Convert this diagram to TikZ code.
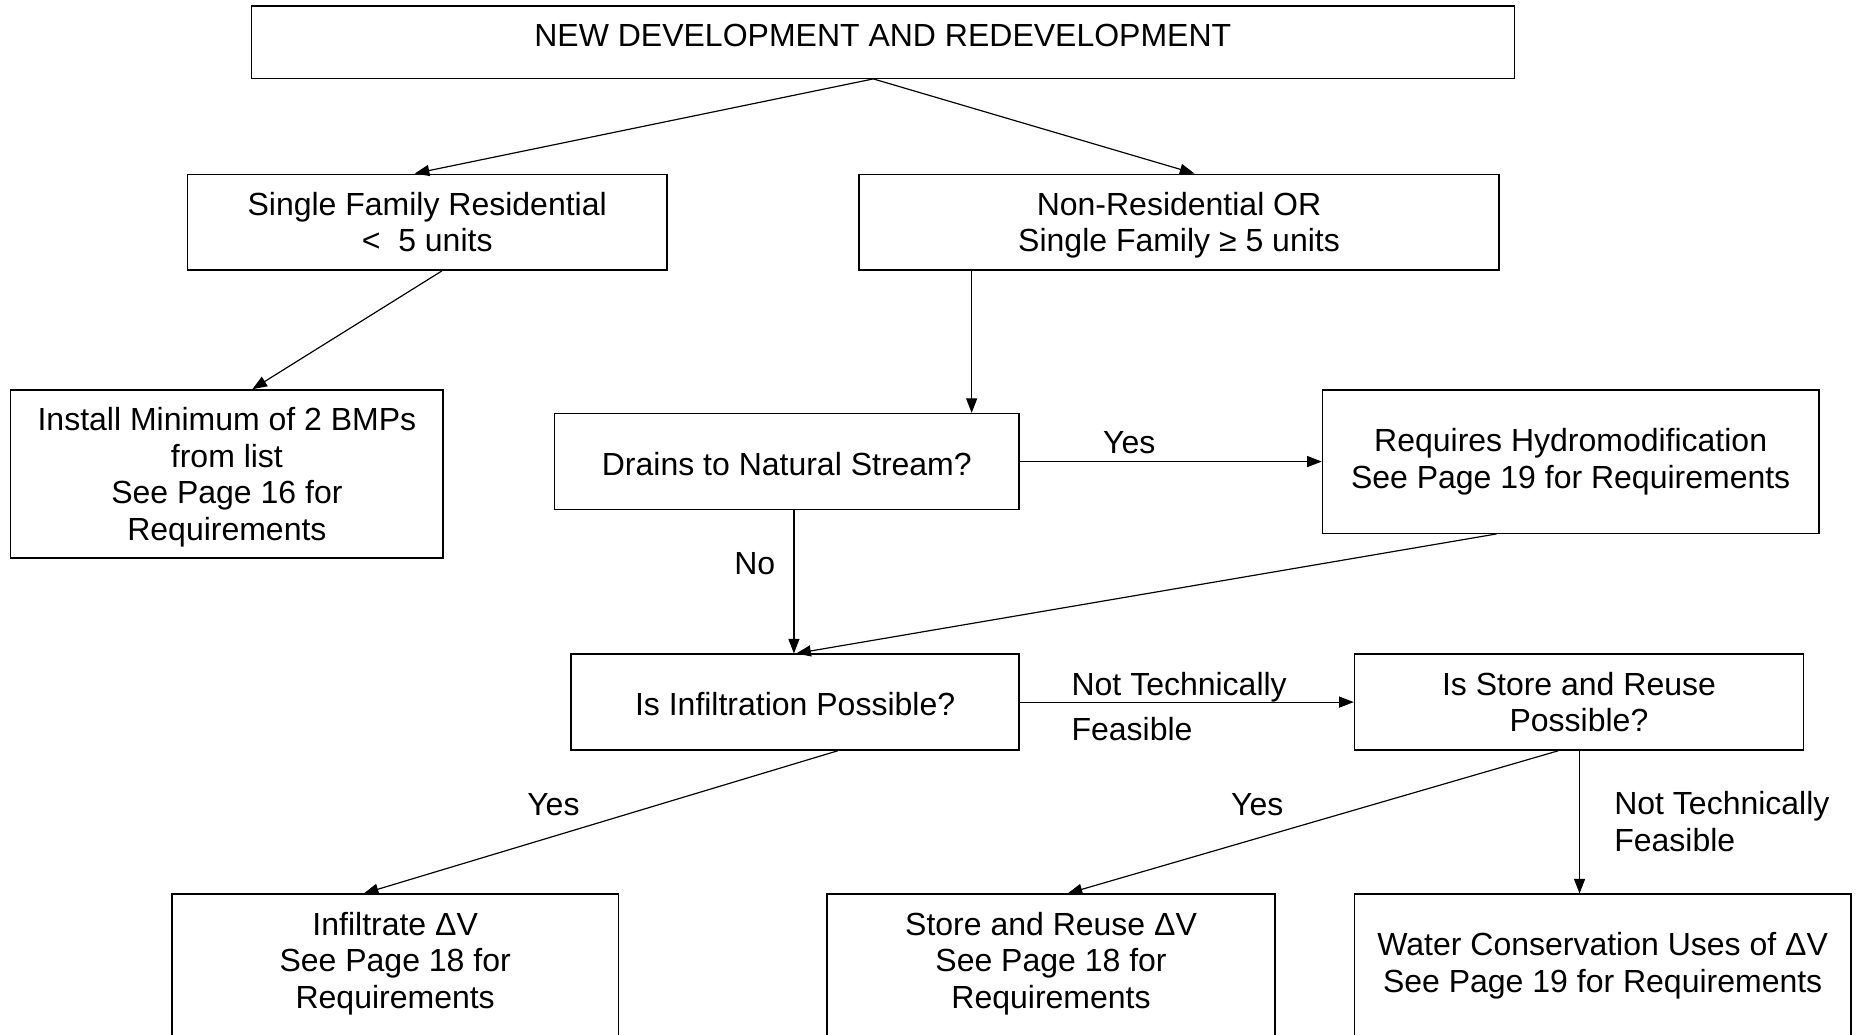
\documentclass[tikz,border=0pt]{standalone}
\usepackage{fontspec}
\setmainfont{Liberation Sans}
\usetikzlibrary{arrows.meta,calc}
\newcommand{\tsA}{\rule{0pt}{18pt}}
\newcommand{\tsC}{\rule{0pt}{15.6pt}}
\newcommand{\tsD}{\rule{0pt}{12.8pt}}
\newcommand{\tsB}{\rule[-4pt]{0pt}{0pt}}
\begin{document}
\begin{tikzpicture}[x=0.6pt,y=-0.6pt,
  every node/.style={font=\fontsize{16.2}{18.5}\selectfont},
  box/.style 2 args={draw, line width=0.7pt, rectangle, inner sep=0pt,
    minimum width=#1*0.6pt, minimum height=#2*0.6pt, align=center},
  lbl/.style={inner sep=0pt},
  txt/.style={inner sep=0pt, align=center},
  arr/.style={line width=0.6pt, -{Triangle[length=7.4pt,width=5.6pt]}}]
\useasboundingbox (0,0) rectangle (1568,873);
\clip (0,0) rectangle (1568,873);
\fill[white] (0,0) rectangle (1568,873);

% boxes
\node[box={1066}{61}] (top) at (745,35.5) {\raisebox{6.6pt}{NEW DEVELOPMENT AND REDEVELOPMENT}};
\node[box={405}{81}] (sf) at (360.5,187.5) {\tsC Single Family Residential\\<\ \ 5 units\tsB};
\node[box={540}{81}] (nr) at (995,187.5) {\tsC Non-Residential OR\\Single Family ≥ 5 units\tsB};
\node[box={365}{142}] (inst) at (191.5,400) {\tsC Install Minimum of 2 BMPs\\from list\\See Page 16 for\\Requirements\tsB};
\node[box={392}{81}] (dr) at (664,389.5) {\tsA Drains to Natural Stream?\tsB};
\node[box={419}{121}] (req) at (1325.5,389.5) {\tsD Requires Hydromodification\\See Page 19 for Requirements\tsB};
\node[box={378}{81}] (inf) at (671,592.5) {\tsA Is Infiltration Possible?\tsB};
\node[box={379}{81}] (st) at (1332.5,592.5) {\tsC Is Store and Reuse\\Possible?\tsB};
\node[box={377}{160},anchor=north] (ib) at (333.5,754) {};
\node[box={378}{160},anchor=north] (sb) at (887,754) {};
\node[box={419}{160},anchor=north] (wb) at (1352.5,754) {};
\node[txt] (it) at (333.5,808.5) {\tsA Infiltrate ΔV\\See Page 18 for\\Requirements\tsB};
\node[txt] (stt) at (887,808.5) {\tsA Store and Reuse ΔV\\See Page 18 for\\Requirements\tsB};
\node[txt] (wt) at (1352.5,810.5) {\tsA Water Conservation Uses of ΔV\\See Page 19 for Requirements\tsB};

% connectors
\draw[arr] ($(top.south)+(-8,0)$) -- ($(sf.north)+(-10.5,0)$);
\draw[arr] ($(top.south)+(-8,0)$) -- ($(nr.north)+(13,0)$);
\draw[arr] ($(sf.south)+(12.5,0)$) -- ($(inst.north)+(21.5,0)$);
\draw[arr] ($(nr.south)+(-175,0)$) -- ($(dr.north)+(156,0)$);
\draw[arr] (dr.east) -- (req.west);
\draw[arr] ($(dr.south)+(6,0)$) -- ($(inf.north)+(-1,0)$);
\draw[arr] ($(req.south)+(-62.5,0)$) -- ($(inf.north)+(1,0)$);
\draw[arr] (inf.east) -- (st.west);
\draw[arr] ($(inf.south)+(36,0)$) -- ($(ib.north)+(-26.5,0)$);
\draw[arr] ($(st.south)+(-17.5,0)$) -- ($(sb.north)+(14,0)$);
\draw[arr] ($(st.south)+(0.5,0)$) -- ($(wb.north)+(-19.5,0)$);

% labels
\node[lbl,anchor=base] (y1) at (953,383) {Yes};
\node[lbl,anchor=base] (no) at (637,485) {No};
\node[lbl,anchor=base west] (nt1) at (904,587) {Not Technically};
\node[lbl,anchor=base west] (nt2) at (904,625) {Feasible};
\node[lbl,anchor=base] (y2) at (467,688) {Yes};
\node[lbl,anchor=base] (y3) at (1061,688) {Yes};
\node[lbl,anchor=west,align=left] (nt3) at (1362,693.5) {Not Technically\\Feasible};
\end{tikzpicture}
\end{document}
